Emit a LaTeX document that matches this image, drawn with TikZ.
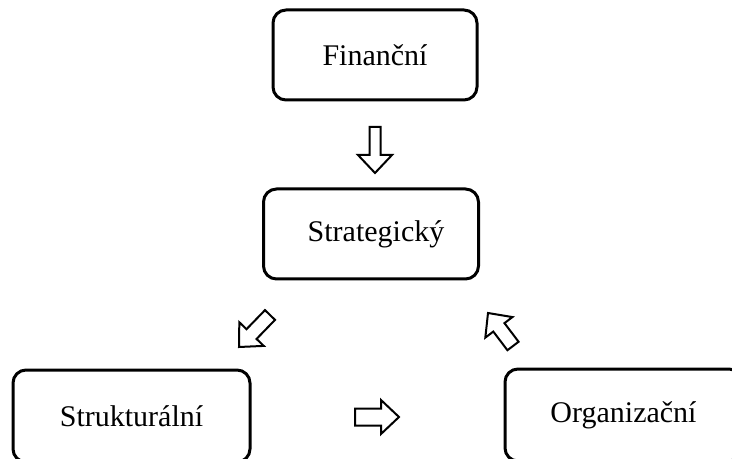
\documentclass[tikz,border=0pt]{standalone}
\usepackage{fontspec}
\setmainfont{Liberation Serif}
\usetikzlibrary{calc}

\tikzset{
  levelbox/.style={draw, line width=1.5pt, rounded corners=6.5pt, inner sep=0pt,
    font=\fontsize{15}{18}\selectfont},
  arrowline/.style={draw, line width=1pt, line join=miter}
}

% hollow block arrow from tail #2 to tip #3, #1 = half width of the shaft
\newcommand{\hollowarrow}[3][3.5pt]{%
  \coordinate (hb) at ($(#3)!9pt!(#2)$);
  \draw[arrowline] ($(#2)!#1!90:(#3)$) -- ($(hb)!#1!90:(#3)$)
    -- ($(hb)!8.5pt!90:(#3)$) -- (#3) -- ($(hb)!8.5pt!-90:(#3)$)
    -- ($(hb)!#1!-90:(#3)$) -- ($(#2)!#1!-90:(#3)$) -- cycle;
}

\begin{document}
\begin{tikzpicture}[x=0.5pt, y=-0.5pt]

  % Page frame
  \useasboundingbox (0,0) rectangle (732,459);
  \clip (0,0) rectangle (732,459);

  % The four boxes
  \node[levelbox, minimum width=102pt, minimum height=45pt] (fin) at (375,55) {Finanční};
  \node[levelbox, minimum width=107.5pt, minimum height=45pt] (str) at (371,234) {\hspace{5pt}Strategický};
  \node[levelbox, minimum width=118.5pt, minimum height=46pt] (stk) at (131.5,416) {Strukturální};
  \node[levelbox, minimum width=118.5pt, minimum height=46pt] (org) at (623.5,415) {Organizační};

  % Tails and tips of the arrows
  \coordinate (a1) at (375,127);
  \coordinate (a2) at (375,173);
  \coordinate (b1) at (270,315);
  \coordinate (b2) at (239,347);
  \coordinate (c1) at (355,417);
  \coordinate (c2) at (399,417);
  \coordinate (d1) at (513,346);
  \coordinate (d2) at (488,313);

  % Draw the hollow arrows
  \hollowarrow[2.75pt]{a1}{a2}
  \hollowarrow{b1}{b2}
  \hollowarrow[4.25pt]{c1}{c2}
  \hollowarrow{d1}{d2}

\end{tikzpicture}
\end{document}
